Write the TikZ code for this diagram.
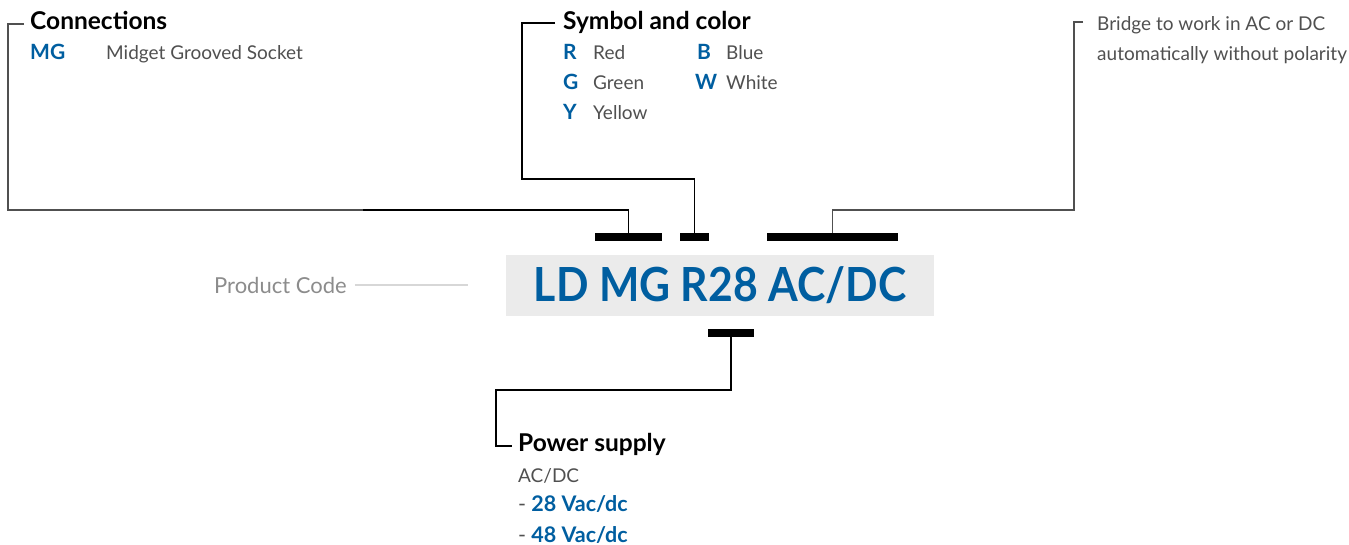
\documentclass[tikz,border=0pt]{standalone}
\usepackage{fontspec}
\setmainfont{Lato}
\usetikzlibrary{positioning}
\definecolor{codeblue}{RGB}{0,94,160}
\definecolor{txtgrey}{RGB}{80,80,80}
\definecolor{lblgrey}{RGB}{140,140,140}
\definecolor{linegrey}{RGB}{215,215,215}
\definecolor{boxgrey}{RGB}{235,235,235}
\definecolor{wiregrey}{RGB}{80,80,80}

\begin{document}
\begin{tikzpicture}[x=1pt, y=-1pt, inner sep=0pt, anchor=base west,
	head/.style={font=\fontsize{24.5}{28}\selectfont\bfseries, text=black},
	body/.style={font=\fontsize{19}{22}\selectfont, text=txtgrey},
	key/.style={font=\fontsize{21}{24}\selectfont\bfseries, text=codeblue},
	bar/.style={fill=black, minimum height=8pt, anchor=center},
	wire/.style={line width=1.4pt}]
			\useasboundingbox (0,0) rectangle (1349,544);
			% code box
			\node[fill=boxgrey, minimum width=428pt, minimum height=61pt, anchor=center,
				font=\fontsize{47}{50}\selectfont\bfseries, text=codeblue] (code) at (720,285.5)
				{\scalebox{0.91}[1]{LD MG R28 AC/DC}};
			\node[font=\fontsize{22}{26}\selectfont, text=lblgrey] (lPC) at (214,293) {Product Code};
			\coordinate (cPC) at (468,285);
			\draw[line width=2pt, linegrey] ([xshift=8pt]lPC.east) -- (lPC.east -| cPC);
			% bars
			\node[bar, minimum width=67pt] (barMG) at (628.5,237) {};
			\node[bar, minimum width=29pt] (barCol) at (694.5,237) {};
			\node[bar, minimum width=131pt] (barAC) at (832.5,237) {};
			\node[bar, minimum width=46pt] (barPS) at (731,333) {};
			% connections
			\node[head] (hConn) at (30,29) {Connections};
			\node[key] (kMG) at (30,59) {MG};
			\node[body] (tMG) at (106,59) {Midget Grooved Socket};
			% symbol and color
			\node[head] (hSym) at (563,29) {Symbol and color};
			\node[key] (kR) at (563,59) {R};
			\node[body] (tR) at (593,59) {Red};
			\node[key] (kG) at (563,89) {G};
			\node[body] (tG) at (593,89) {Green};
			\node[key] (kY) at (563,119) {Y};
			\node[body] (tY) at (593,119) {Yellow};
			\node[key] (kB) at (697,59) {B};
			\node[body] (tB) at (726,59) {Blue};
			\node[key] (kW) at (695,89) {W};
			\node[body] (tW) at (726,89) {White};
			% bridge
			\node[body] (tBr1) at (1097,30) {Bridge to work in AC or DC};
			\node[body] (tBr2) at (1097,60) {automatically without polarity};
			% power supply
			\node[head] (hPS) at (518,451) {Power supply};
			\node[body] (tPS) at (518,482) {AC/DC};
			\node[key, font=\fontsize{21.5}{24}\selectfont\bfseries] (v28) at (518,511)
				{\textcolor{txtgrey}{\mdseries -} 28 Vac/dc};
			\node[key, font=\fontsize{21.5}{24}\selectfont\bfseries] (v48) at (518,542)
				{\textcolor{txtgrey}{\mdseries -} 48 Vac/dc};
			% wires
			\coordinate (cConn) at (8,210);
			\coordinate (cConnB) at (363,210);
			\coordinate (cSym) at (522,179);
			\coordinate (cBr) at (1074,210);
			\coordinate (cPS) at (496,390);
			\draw[wire, wiregrey] ([xshift=-6pt, yshift=5pt]hConn.base west) -| (cConn) -- (cConnB);
			\draw[wire] (cConnB) -| (barMG.north);
			\draw[wire] ([xshift=-8pt, yshift=6pt]hSym.base west) -| (cSym) -| (barCol.north);
			\draw[wire, wiregrey] ([xshift=-14pt, yshift=8pt]tBr1.base west) -| (cBr) -| (barAC.north);
			\draw[wire] (barPS.south) |- (cPS) |- ([xshift=-6pt, yshift=5pt]hPS.base west);
		\end{tikzpicture}
\end{document}
